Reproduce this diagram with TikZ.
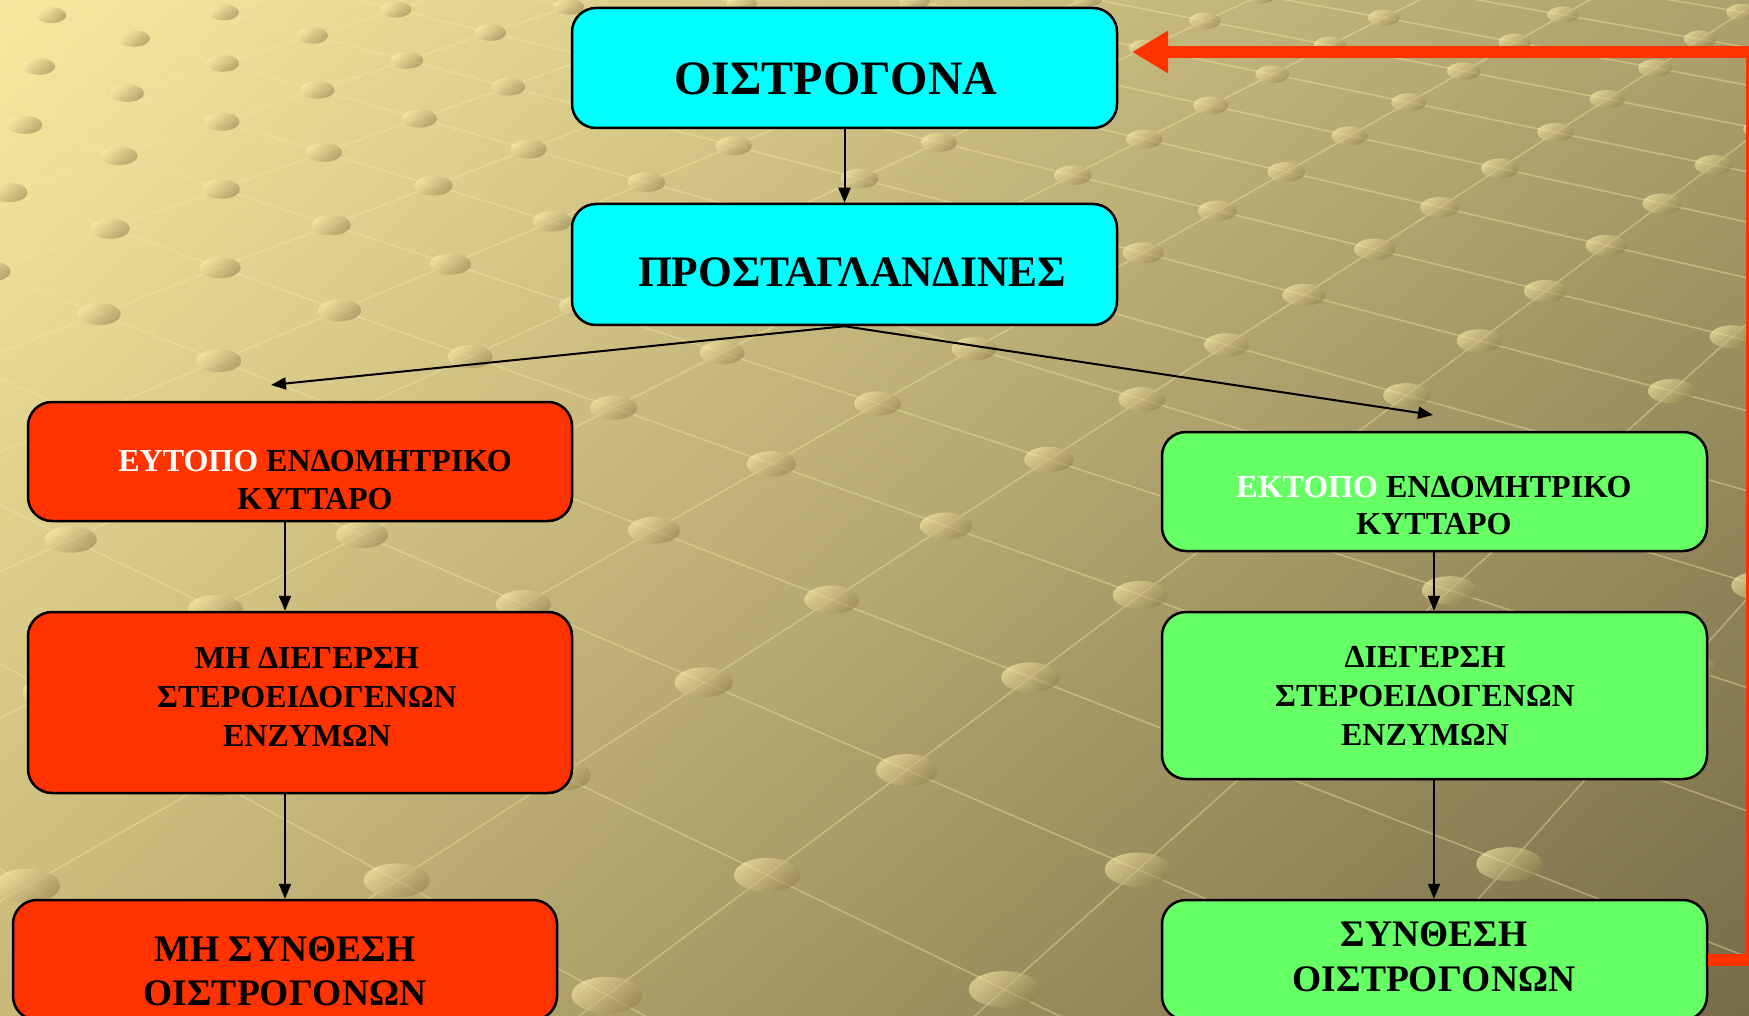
\documentclass[tikz,border=0pt]{standalone}
\usepackage{fontspec}
\setmainfont{Liberation Serif}
\usetikzlibrary{arrows.meta,shadings}
\definecolor{bgUL}{RGB}{248,233,160}
\definecolor{bgUR}{RGB}{172,160,108}
\definecolor{bgLL}{RGB}{200,184,122}
\definecolor{bgLR}{RGB}{118,108,72}
\definecolor{dotL}{RGB}{252,238,170}
\definecolor{dotD}{RGB}{145,130,80}
\definecolor{gridc}{RGB}{245,232,165}
\definecolor{cyanbox}{RGB}{0,255,255}
\definecolor{redbox}{RGB}{255,51,0}
\definecolor{greenbox}{RGB}{102,255,102}
\tikzset{
  box/.style={draw=black, line width=2.5pt, rounded corners=24pt, minimum width=545pt, inner sep=0pt},
  lbl/.style={align=center, inner sep=0pt},
  arr/.style={draw=black, line width=2pt, -{Triangle[length=15pt,width=12pt]}},
  redarrow/.style={draw=redbox, line width=12pt, line join=miter, -{Triangle[length=36pt,width=40pt]}},
  gridline/.style={draw=gridc, line width=1.6pt, draw opacity=0.4},
  dotshade/.style={top color=dotL, bottom color=dotD, shading angle=40, fill opacity=0.6}
}
\begin{document}
\begin{tikzpicture}[x=1pt,y=-1pt]
\useasboundingbox (0,0) rectangle (1749,1016);
\clip (0,0) rectangle (1749,1016);
% background
\shade[upper left=bgUL, upper right=bgUR, lower left=bgLL, lower right=bgLR] (0,0) rectangle (1749,1016);
% perspective lattice
\foreach \v in {-3,...,16}{
  \pgfmathsetmacro\da{1-3*0.0669+0.0677*(\v)}
  \pgfmathsetmacro\xa{(-3*200.7-169.25*(\v)+767)/\da}
  \pgfmathsetmacro\ya{(3*53.52-47.39*(\v)+875)/\da}
  \pgfmathsetmacro\db{1+16*0.0669+0.0677*(\v)}
  \pgfmathsetmacro\xb{(16*200.7-169.25*(\v)+767)/\db}
  \pgfmathsetmacro\yb{(-16*53.52-47.39*(\v)+875)/\db}
  \draw[gridline] (\xa,\ya) -- (\xb,\yb);
}
\foreach \u in {-3,...,16}{
  \pgfmathsetmacro\da{1+0.0669*(\u)-3*0.0677}
  \pgfmathsetmacro\xa{(200.7*(\u)+3*169.25+767)/\da}
  \pgfmathsetmacro\ya{(-53.52*(\u)+3*47.39+875)/\da}
  \pgfmathsetmacro\db{1+0.0669*(\u)+16*0.0677}
  \pgfmathsetmacro\xb{(200.7*(\u)-16*169.25+767)/\db}
  \pgfmathsetmacro\yb{(-53.52*(\u)-16*47.39+875)/\db}
  \draw[gridline] (\xa,\ya) -- (\xb,\yb);
}
\foreach \u in {-3,...,16}{
  \foreach \v in {-3,...,16}{
    \pgfmathsetmacro\dd{1+0.0669*(\u)+0.0677*(\v)}
    \pgfmathsetmacro\px{(200.7*(\u)-169.25*(\v)+767)/\dd}
    \pgfmathsetmacro\py{(-53.52*(\u)-47.39*(\v)+875)/\dd}
    \pgfmathsetmacro\rx{33/\dd}
    \pgfmathsetmacro\ry{17/\dd}
    \pgfmathparse{and(and(\px+60>0,\px<1810),and(\py+40>0,\py<1060))}
    \ifdim\pgfmathresult pt>0.5pt
      \shade[dotshade] (\px,\py) ellipse [x radius=\rx, y radius=\ry];
    \fi
  }
}
% boxes
\node[box, fill=cyanbox, minimum height=120pt] (top) at (844.5,68) {};
\node[box, fill=cyanbox, minimum height=121pt] (pros) at (844.5,264.5) {};
\node[box, fill=redbox, minimum height=119pt, minimum width=544pt] (L1) at (300,461.5) {};
\node[box, fill=redbox, minimum height=181pt, minimum width=544pt] (L2) at (300,702.5) {};
\node[box, fill=redbox, minimum height=120pt, minimum width=544pt] (L3) at (285,960) {};
\node[box, fill=greenbox, minimum height=119pt] (R1) at (1434.5,491.5) {};
\node[box, fill=greenbox, minimum height=167pt] (R2) at (1434.5,695.5) {};
\node[box, fill=greenbox, minimum height=120pt] (R3) at (1434.5,960) {};
% texts
\node[lbl, font=\fontsize{48}{56}\selectfont\bfseries] (tTop) at (836,79) {ΟΙΣΤΡΟΓΟΝΑ};
\node[lbl, font=\fontsize{43.5}{50}\selectfont\bfseries] (tPros) at (852,272) {ΠΡΟΣΤΑΓΛΑΝΔΙΝΕΣ};
\node[lbl, font=\fontsize{32}{38}\selectfont\bfseries] (tL1) at (315,480) {{\color{white}ΕΥΤΟΠΟ} ΕΝΔΟΜΗΤΡΙΚΟ\\ΚΥΤΤΑΡΟ};
\node[lbl, font=\fontsize{32}{39}\selectfont\bfseries] (tL2) at (307,697) {ΜΗ ΔΙΕΓΕΡΣΗ\\ΣΤΕΡΟΕΙΔΟΓΕΝΩΝ\\ΕΝΖΥΜΩΝ};
\node[lbl, font=\fontsize{37.5}{44}\selectfont\bfseries] (tL3) at (285,971) {ΜΗ ΣΥΝΘΕΣΗ\\ΟΙΣΤΡΟΓΟΝΩΝ};
\node[lbl, font=\fontsize{32}{37}\selectfont\bfseries] (tR1) at (1434,506) {{\color{white}ΕΚΤΟΠΟ} ΕΝΔΟΜΗΤΡΙΚΟ\\ΚΥΤΤΑΡΟ};
\node[lbl, font=\fontsize{32}{39}\selectfont\bfseries] (tR2) at (1425,696) {ΔΙΕΓΕΡΣΗ\\ΣΤΕΡΟΕΙΔΟΓΕΝΩΝ\\ΕΝΖΥΜΩΝ};
\node[lbl, font=\fontsize{37.5}{45}\selectfont\bfseries] (tR3) at (1434,957) {ΣΥΝΘΕΣΗ\\ΟΙΣΤΡΟΓΟΝΩΝ};
% connector helpers
\coordinate (tipL) at (271,385);
\coordinate (tipR) at (1433,415);
\coordinate (axL) at (285,0);
\coordinate (axR) at (1434,0);
\coordinate (rc1) at (1752,960);
\coordinate (rc2) at (1752,52);
\coordinate (tipTop) at (1132,52);
% connectors
\draw[arr] (top.south) -- (pros.north);
\draw[arr] (pros.south) -- (tipL);
\draw[arr] (pros.south) -- (tipR);
\draw[arr] (L1.south -| axL) -- (L2.north -| axL);
\draw[arr] (L2.south -| axL) -- (L3.north -| axL);
\draw[arr] (R1.south -| axR) -- (R2.north -| axR);
\draw[arr] (R2.south -| axR) -- (R3.north -| axR);
\draw[redarrow] (R3.east) -- (rc1) -- (rc2) -- (tipTop);
\end{tikzpicture}
\end{document}
